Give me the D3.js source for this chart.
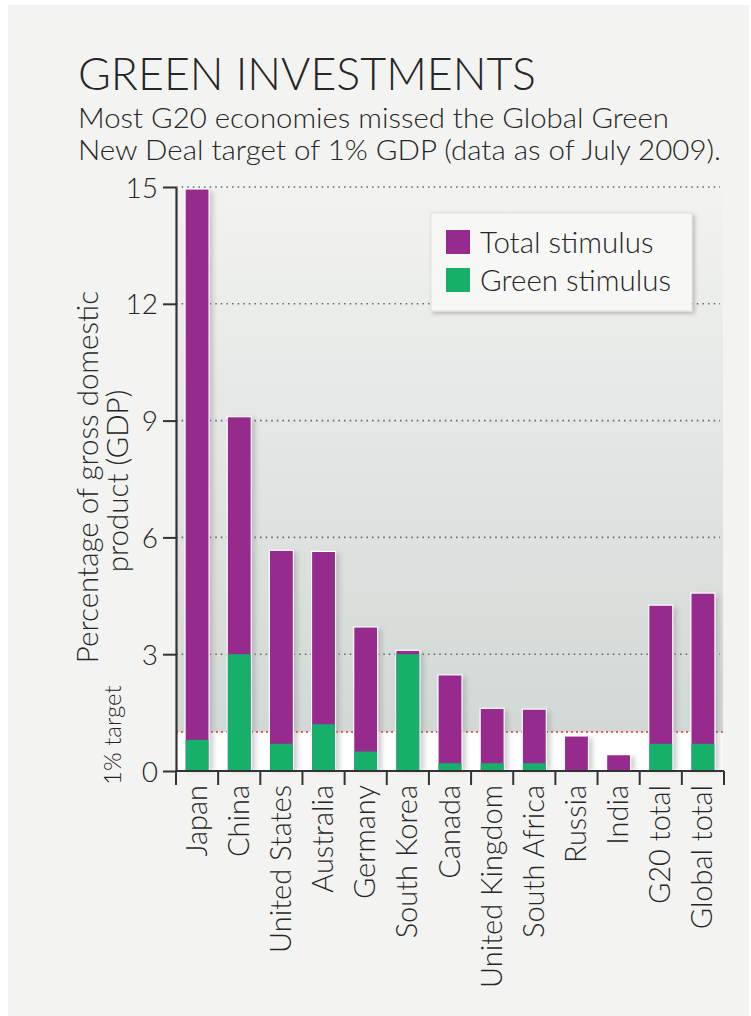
<!DOCTYPE html>
<html>
<head>
<meta charset="utf-8">
<script src="https://cdn.jsdelivr.net/npm/d3@7"></script>
<style>
  html, body { margin: 0; padding: 0; background: #ffffff; }
  svg { display: block; }
  text { font-family: "Lato", "Open Sans", sans-serif; font-weight: 300; fill: #262626; }
</style>
</head>
<body>
<svg id="chart" width="751" height="1016"></svg>
<script>
// Stimulus packages as a share of GDP, July 2009
const categories = ["Japan", "China", "United States", "Australia", "Germany", "South Korea",
  "Canada", "United Kingdom", "South Africa", "Russia", "India", "G20 total", "Global total"];
const totalStimulus = [14.95, 9.1, 5.67, 5.64, 3.7, 3.1, 2.47, 1.61, 1.59, 0.9, 0.42, 4.26, 4.57];
const greenStimulus = [0.8, 3.0, 0.7, 1.2, 0.5, 3.0, 0.2, 0.2, 0.2, 0, 0, 0.7, 0.7];
const yTicks = [0, 3, 6, 9, 12, 15];
const gridValues = [3, 6, 9, 12, 15];
const targetValue = 1;
const seriesNames = ["Total stimulus", "Green stimulus"];

const PURPLE = "#962a8d";
const GREEN = "#16b06b";

const svg = d3.select("#chart");
const defs = svg.append("defs");

// soft shadow behind each bar
const blur = defs.append("filter").attr("id", "barShadow")
  .attr("x", "-50%").attr("y", "-5%").attr("width", "200%").attr("height", "110%");
blur.append("feGaussianBlur").attr("stdDeviation", 2.5);

const boxShadow = defs.append("filter").attr("id", "boxShadow")
  .attr("x", "-10%").attr("y", "-10%").attr("width", "130%").attr("height", "140%");
boxShadow.append("feGaussianBlur").attr("in", "SourceAlpha").attr("stdDeviation", 2).attr("result", "b");
boxShadow.append("feOffset").attr("in", "b").attr("dx", 2).attr("dy", 2).attr("result", "o");
boxShadow.append("feComponentTransfer").attr("in", "o").attr("result", "s")
  .append("feFuncA").attr("type", "linear").attr("slope", 0.25);
const merge = boxShadow.append("feMerge");
merge.append("feMergeNode").attr("in", "s");
merge.append("feMergeNode").attr("in", "SourceGraphic");

const grad = defs.append("linearGradient").attr("id", "plotBg")
  .attr("x1", 0).attr("y1", 0).attr("x2", 0).attr("y2", 1);
grad.append("stop").attr("offset", "0%").attr("stop-color", "#f2f3f1");
grad.append("stop").attr("offset", "100%").attr("stop-color", "#d2d8d5");

// panel
svg.append("rect").attr("x", 8).attr("y", 5).attr("width", 741).attr("height", 1011).attr("fill", "#f3f4f2");

// scales
const x = d3.scaleBand().domain(categories).range([176, 724]).paddingInner(0.43).paddingOuter(0.215);
const y = d3.scaleLinear().domain([0, 15]).range([771, 187]);

// plot background: gradient above the target, white below it
svg.append("rect")
  .attr("x", x.range()[0]).attr("y", y(15))
  .attr("width", x.range()[1] - x.range()[0] - 1).attr("height", y(targetValue) - y(15))
  .attr("fill", "url(#plotBg)");
svg.append("rect")
  .attr("x", x.range()[0]).attr("y", y(targetValue))
  .attr("width", x.range()[1] - x.range()[0] - 1).attr("height", y(0) - y(targetValue))
  .attr("fill", "#ffffff");

// dotted gridlines
svg.append("g").selectAll("line").data(gridValues).join("line")
  .attr("x1", x.range()[0]).attr("x2", 720)
  .attr("y1", d => y(d)).attr("y2", d => y(d))
  .attr("stroke", "#6b6b6b").attr("stroke-width", 1.6)
  .attr("stroke-dasharray", "1.6,4").attr("stroke-linecap", "butt");

// 1% target line
svg.append("line")
  .attr("x1", x.range()[0]).attr("x2", x.range()[1])
  .attr("y1", y(targetValue)).attr("y2", y(targetValue))
  .attr("stroke", "#e8322e").attr("stroke-width", 1.6).attr("stroke-dasharray", "2,3");

const rows = categories.map((c, i) => ({ c, total: totalStimulus[i], green: greenStimulus[i] }));

// bar shadows
svg.append("g").selectAll("rect").data(rows).join("rect")
  .attr("x", d => x(d.c) + 4).attr("y", d => y(d.total) + 2)
  .attr("width", x.bandwidth()).attr("height", d => y(0) - y(d.total) - 2)
  .attr("fill", "#8f9592").attr("opacity", 0.45).attr("filter", "url(#barShadow)");

// total bars
svg.append("g").selectAll("rect").data(rows).join("rect")
  .attr("x", d => x(d.c)).attr("y", d => y(d.total))
  .attr("width", x.bandwidth()).attr("height", d => y(0) - y(d.total))
  .attr("fill", PURPLE).attr("stroke", "#ffffff").attr("stroke-width", 1.2);

// green share
svg.append("g").selectAll("rect").data(rows.filter(d => d.green > 0)).join("rect")
  .attr("x", d => x(d.c) + 0.6).attr("y", d => y(d.green))
  .attr("width", x.bandwidth() - 1.2).attr("height", d => y(0) - y(d.green) - 0.6)
  .attr("fill", GREEN);

// y axis
const yAxis = svg.append("g").attr("transform", `translate(${x.range()[0]},0)`)
  .call(d3.axisLeft(y).tickValues(yTicks).tickSize(13).tickSizeOuter(0).tickPadding(5));
yAxis.select(".domain").attr("stroke", "#333").attr("stroke-width", 2.2);
yAxis.selectAll(".tick line").attr("stroke", "#333").attr("stroke-width", 2);
yAxis.selectAll(".tick text").attr("font-size", 28).attr("font-family", null).attr("fill", "#262626").attr("dy", "0.36em");

// x axis baseline and boundary ticks
const boundaries = categories.map(c => x(c) - x.step() * x.paddingInner() / 2).concat([x.range()[1]]);
svg.append("line").attr("x1", x.range()[0]).attr("x2", x.range()[1])
  .attr("y1", y(0)).attr("y2", y(0)).attr("stroke", "#333").attr("stroke-width", 2.2);
svg.append("g").selectAll("line").data(boundaries).join("line")
  .attr("x1", d => d).attr("x2", d => d)
  .attr("y1", y(0)).attr("y2", y(0) + 14)
  .attr("stroke", "#333").attr("stroke-width", 2);

// category labels
svg.append("g").selectAll("text").data(categories).join("text")
  .attr("transform", c => `translate(${x(c) + x.bandwidth() / 2 + 9.5},785) rotate(-90)`)
  .attr("text-anchor", "end").attr("font-size", 29).text(c => c);

// axis titles
svg.append("text").attr("transform", "translate(98,477) rotate(-90)")
  .attr("text-anchor", "middle").attr("font-size", 29.5).text("Percentage of gross domestic");
svg.append("text").attr("transform", "translate(128,481) rotate(-90)")
  .attr("text-anchor", "middle").attr("font-size", 29.5).text("product (GDP)");
svg.append("text").attr("transform", `translate(121,${y(0) + 14}) rotate(-90)`)
  .attr("text-anchor", "start").attr("font-size", 24).text("1% target");

// title and subtitle
svg.append("text").attr("x", 78).attr("y", 90).attr("font-size", 46)
  .attr("textLength", 458).attr("lengthAdjust", "spacingAndGlyphs").text("GREEN INVESTMENTS");
svg.append("text").attr("x", 78).attr("y", 128).attr("font-size", 26.5)
  .attr("textLength", 591).attr("lengthAdjust", "spacingAndGlyphs").text("Most G20 economies missed the Global Green");
svg.append("text").attr("x", 78).attr("y", 160).attr("font-size", 26.5)
  .attr("textLength", 643).attr("lengthAdjust", "spacingAndGlyphs").text("New Deal target of 1% GDP (data as of July 2009).");

// legend
const legend = svg.append("g");
legend.append("rect").attr("x", 431).attr("y", 213).attr("width", 261).attr("height", 98)
  .attr("fill", "#f7f7f6").attr("stroke", "#e0e2e0").attr("stroke-width", 1).attr("filter", "url(#boxShadow)");
const legendColors = [PURPLE, GREEN];
const items = legend.selectAll("g.item").data(seriesNames).join("g").attr("class", "item")
  .attr("transform", (d, i) => `translate(446,${230 + i * 38})`);
items.append("rect").attr("width", 24).attr("height", 24).attr("fill", (d, i) => legendColors[i]);
items.append("text").attr("x", 34).attr("y", 22.5).attr("font-size", 29.5).text(d => d);
</script>
</body>
</html>
